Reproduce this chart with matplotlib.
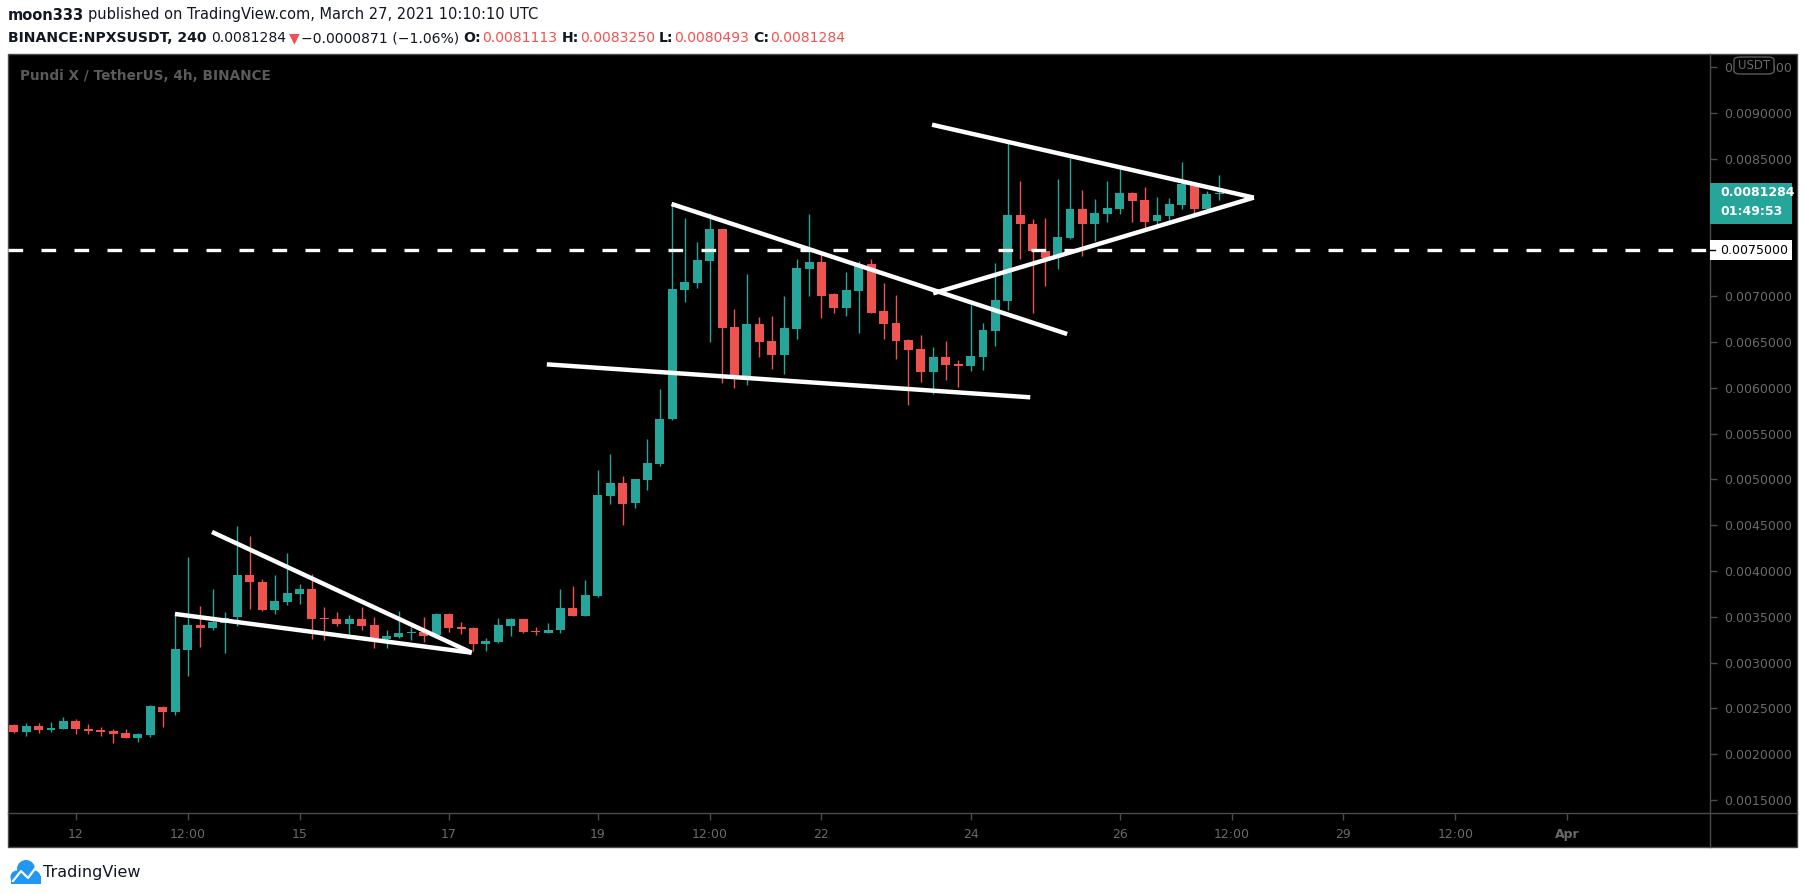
import numpy as np
import pandas as pd
import matplotlib
matplotlib.use('Agg')
import matplotlib.pyplot as plt
import matplotlib.dates as mdates
import matplotlib.transforms as mtransforms
from matplotlib.patches import Rectangle, FancyBboxPatch, Circle
from matplotlib.ticker import FormatStrFormatter

plt.rcParams['font.family'] = ['DejaVu Sans']

# NPXS/USDT 4h candles, first one opens 2021-03-11 04:00 UTC
first_candle = '2021-03-11 04:00'
opens = [0.002319, 0.002242, 0.002308, 0.002268, 0.002275, 0.002362, 0.002275, 0.002264, 0.002253, 0.002231,
         0.002177, 0.002210, 0.002515, 0.002461, 0.003138, 0.003410, 0.003378, 0.003436, 0.003498, 0.003956,
         0.003880, 0.003574, 0.003662, 0.003749, 0.003804, 0.003487, 0.003476, 0.003421, 0.003476, 0.003410,
         0.003258, 0.003279, 0.003323, 0.003334, 0.003301, 0.003531, 0.003389, 0.003378, 0.003203, 0.003225,
         0.003403, 0.003476, 0.003341, 0.003327, 0.003356, 0.003596, 0.003509, 0.003727, 0.004819, 0.004961,
         0.004742, 0.004993, 0.005168, 0.005659, 0.007068, 0.007144, 0.007384, 0.007734, 0.006664, 0.006129,
         0.006697, 0.006511, 0.006358, 0.006642, 0.007297, 0.007373, 0.007024, 0.006871, 0.007057, 0.007352,
         0.006838, 0.006707, 0.006522, 0.006424, 0.006173, 0.006336, 0.006260, 0.006238, 0.006336, 0.006620,
         0.006948, 0.007887, 0.007788, 0.007493, 0.007450, 0.007635, 0.007952, 0.007788, 0.007897, 0.007952,
         0.008127, 0.008050, 0.007821, 0.007876, 0.007996, 0.008214, 0.007952, 0.0081113]
highs = [0.002330, 0.002337, 0.002341, 0.002352, 0.002410, 0.002384, 0.002330, 0.002297, 0.002275, 0.002275,
         0.002231, 0.002537, 0.002526, 0.003552, 0.004153, 0.003618, 0.003804, 0.003552, 0.004491, 0.004382,
         0.003913, 0.003956, 0.004197, 0.003858, 0.003967, 0.003607, 0.003552, 0.003520, 0.003607, 0.003498,
         0.003356, 0.003563, 0.003389, 0.003498, 0.003538, 0.003542, 0.003443, 0.003389, 0.003269, 0.003487,
         0.003487, 0.003476, 0.003389, 0.003432, 0.003804, 0.003836, 0.003902, 0.005103, 0.005277, 0.005037,
         0.005004, 0.005441, 0.005987, 0.008000, 0.007854, 0.007592, 0.007905, 0.007734, 0.006860, 0.007242,
         0.006773, 0.006784, 0.007002, 0.007406, 0.007897, 0.007493, 0.007035, 0.007264, 0.007384, 0.007406,
         0.007144, 0.007013, 0.006533, 0.006576, 0.006446, 0.006511, 0.006304, 0.006904, 0.006707, 0.007362,
         0.008669, 0.008258, 0.007843, 0.007854, 0.008280, 0.008509, 0.008159, 0.008061, 0.008258, 0.008389,
         0.008138, 0.008192, 0.008083, 0.008072, 0.008465, 0.008225, 0.008149, 0.0083250]
lows = [0.002235, 0.002199, 0.002235, 0.002242, 0.002275, 0.002224, 0.002224, 0.002199, 0.002126, 0.002177,
        0.002133, 0.002188, 0.002297, 0.002428, 0.002854, 0.003170, 0.003356, 0.003105, 0.003400, 0.003585,
        0.003563, 0.003531, 0.003629, 0.003640, 0.003258, 0.003247, 0.003400, 0.003312, 0.003356, 0.003159,
        0.003159, 0.003269, 0.003247, 0.003225, 0.003301, 0.003334, 0.003312, 0.003127, 0.003127, 0.003214,
        0.003294, 0.003323, 0.003301, 0.003327, 0.003327, 0.003509, 0.003509, 0.003716, 0.004731, 0.004502,
        0.004688, 0.004884, 0.005146, 0.005648, 0.006937, 0.007090, 0.006500, 0.006052, 0.005998, 0.006031,
        0.006336, 0.006205, 0.006151, 0.006533, 0.007002, 0.006762, 0.006817, 0.006784, 0.006598, 0.006817,
        0.006533, 0.006314, 0.005812, 0.006063, 0.005932, 0.006085, 0.006009, 0.006183, 0.006194, 0.006456,
        0.006849, 0.007406, 0.006817, 0.007111, 0.007297, 0.007624, 0.007439, 0.007603, 0.007810, 0.007897,
        0.007810, 0.007734, 0.007777, 0.007821, 0.007952, 0.007897, 0.007941, 0.0080493]
closes = [0.002242, 0.002308, 0.002268, 0.002286, 0.002362, 0.002275, 0.002253, 0.002242, 0.002224, 0.002177,
          0.002221, 0.002526, 0.002461, 0.003148, 0.003410, 0.003378, 0.003443, 0.003491, 0.003956, 0.003880,
          0.003574, 0.003672, 0.003760, 0.003804, 0.003476, 0.003476, 0.003421, 0.003476, 0.003400, 0.003269,
          0.003290, 0.003323, 0.003334, 0.003290, 0.003531, 0.003378, 0.003367, 0.003203, 0.003236, 0.003410,
          0.003476, 0.003334, 0.003330, 0.003356, 0.003596, 0.003509, 0.003738, 0.004830, 0.004961, 0.004731,
          0.005004, 0.005179, 0.005659, 0.007079, 0.007155, 0.007395, 0.007734, 0.006653, 0.006140, 0.006697,
          0.006500, 0.006358, 0.006653, 0.007308, 0.007373, 0.007002, 0.006871, 0.007068, 0.007341, 0.006817,
          0.006697, 0.006511, 0.006413, 0.006173, 0.006336, 0.006249, 0.006242, 0.006347, 0.006631, 0.006958,
          0.007887, 0.007788, 0.007493, 0.007417, 0.007646, 0.007952, 0.007788, 0.007908, 0.007963, 0.008127,
          0.008039, 0.007810, 0.007887, 0.008007, 0.008225, 0.007952, 0.008116, 0.0081284]

# hand drawn lines: (time, price)
wedge_top = [('2021-03-13 19:50', 0.004426), ('2021-03-17 07:24', 0.003108)]
wedge_bottom = [('2021-03-13 07:55', 0.003531), ('2021-03-17 07:24', 0.003108)]
range_bottom = [('2021-03-18 07:36', 0.006256), ('2021-03-24 19:12', 0.005896)]
range_top = [('2021-03-19 23:45', 0.008007), ('2021-03-25 07:05', 0.006587)]
tri_bottom = [('2021-03-23 11:58', 0.007031), ('2021-03-27 19:10', 0.008076)]
tri_top = [('2021-03-23 11:36', 0.008872), ('2021-03-27 19:10', 0.008076)]
level = 0.0075

last_price = 0.0081284
countdown = '01:49:53'

# 0.0075 and 0.0080 sit under the price tags, so they are not listed
y_ticks = [0.0015, 0.0020, 0.0025, 0.0030, 0.0035, 0.0040, 0.0045, 0.0050, 0.0055,
           0.0060, 0.0065, 0.0070, 0.0085, 0.0090, 0.0095]
x_tick_times = ['2021-03-12 00:00', '2021-03-13 12:00', '2021-03-15 00:00', '2021-03-17 00:00',
                '2021-03-19 00:00', '2021-03-20 12:00', '2021-03-22 00:00', '2021-03-24 00:00',
                '2021-03-26 00:00', '2021-03-27 12:00', '2021-03-29 00:00', '2021-03-30 12:00',
                '2021-04-01 00:00']
x_tick_labels = ['12', '12:00', '15', '17', '19', '12:00', '22', '24', '26', '12:00', '29', '12:00', 'Apr']
x_range = ['2021-03-11 02:10', '2021-04-02 22:00']
y_range = [0.001358, 0.009644]

GREEN = '#26a69a'
RED = '#ef5350'
BORDER = '#4a4a4a'
AXTXT = '#6a6a6a'
DARK = '#131722'

W, H = 1805, 894
fig = plt.figure(figsize=(W / 100, H / 100), dpi=100, facecolor='white')

# page layer in pixel coords
frame = fig.add_axes([0, 0, 1, 1], zorder=0)
frame.set_xlim(0, W)
frame.set_ylim(H, 0)
frame.axis('off')
frame.add_patch(Rectangle((8, 54), 1789, 793, facecolor='black', edgecolor=BORDER, lw=1))
frame.plot([8, 1797], [813, 813], color=BORDER, lw=1)
frame.plot([1710, 1710], [54, 847], color=BORDER, lw=1)

# chart
ax = fig.add_axes([8 / W, (H - 813) / H, 1702 / W, (813 - 54) / H], zorder=1)
ax.set_facecolor('none')
for s in ax.spines.values():
    s.set_visible(False)

t = mdates.date2num(pd.date_range(first_candle, periods=len(opens), freq='4h'))
o = np.array(opens)
hi = np.array(highs)
lo = np.array(lows)
c = np.array(closes)
col = np.where(c >= o, GREEN, RED)
ax.vlines(t, lo, hi, colors=col, lw=1.0, zorder=2)
body = np.maximum(np.abs(c - o), 0.000016)
ax.bar(t, body, bottom=np.minimum(o, c), width=0.12, color=col, zorder=3)

ax.axhline(level, color='white', lw=2.4, dashes=(4.4, 5.5), zorder=4)
for ln in [wedge_top, wedge_bottom, range_bottom, range_top, tri_bottom, tri_top]:
    xs = mdates.date2num(pd.to_datetime([p[0] for p in ln]))
    ys = [p[1] for p in ln]
    ax.plot(xs, ys, color='white', lw=3.2, solid_capstyle='butt', zorder=5)

ax.set_xlim(mdates.date2num(pd.to_datetime(x_range)))
ax.set_ylim(y_range)
ax.yaxis.tick_right()
ax.set_yticks(y_ticks)
ax.yaxis.set_major_formatter(FormatStrFormatter('%.7f'))
ax.tick_params(axis='y', color=BORDER, labelcolor=AXTXT, length=5, width=1, pad=5, labelsize=9)
ax.set_xticks(mdates.date2num(pd.to_datetime(x_tick_times)))
ax.set_xticklabels(x_tick_labels)
ax.tick_params(axis='x', color=BORDER, labelcolor=AXTXT, length=5, width=1, pad=6, labelsize=9)
ax.get_xticklabels()[-1].set_fontweight('bold')

ax.text(12 / 1702, (813 - 76.5) / 759, 'Pundi X / TetherUS, 4h, BINANCE', transform=ax.transAxes,
        color='#5a5a5a', fontsize=9.8, fontweight='bold', va='center', ha='left')

# price labels on the scale
px = (y_range[1] - y_range[0]) / 759
tr = mtransforms.blended_transform_factory(ax.transAxes, ax.transData)
bw = 82 / 1702
ax.add_patch(Rectangle((1.0, last_price - 31 * px), bw, 41 * px, transform=tr, facecolor=GREEN,
                       edgecolor='none', clip_on=False, zorder=6))
ax.text(1.0 + 10 / 1702, last_price, '%.7f' % last_price, transform=tr, color='white', fontsize=9,
        fontweight='bold', va='center', ha='left', zorder=7, clip_on=False)
ax.text(1.0 + 10 / 1702, last_price - 19 * px, countdown, transform=tr, color='white', fontsize=9,
        fontweight='bold', va='center', ha='left', zorder=7, clip_on=False)
ax.add_patch(Rectangle((1.0, level - 10 * px), bw, 20 * px, transform=tr, facecolor='white',
                       edgecolor='none', clip_on=False, zorder=6))
ax.plot([1.0, 1.0 + 5 / 1702], [level, level], transform=tr, color='black', lw=1,
        clip_on=False, zorder=7)
ax.text(1.0 + 10 / 1702, level, '%.7f' % level, transform=tr, color='black', fontsize=9,
        va='center', ha='left', zorder=7, clip_on=False)
ax.add_patch(FancyBboxPatch((1.0 + 24 / 1702, (813 - 74) / 759), 40 / 1702, 17 / 759,
                            boxstyle='round,pad=0,rounding_size=0.004', transform=ax.transAxes,
                            facecolor='black', edgecolor='#5a5a5a', lw=1, clip_on=False, zorder=6))
ax.text(1.0 + 44 / 1702, (813 - 65.5) / 759, 'USDT', transform=ax.transAxes, color='#6a6a6a',
        fontsize=8.5, va='center', ha='center', zorder=7, clip_on=False)

# header
r = fig.canvas.get_renderer()


def line_of(pieces, y, size):
    x = 8
    for s, color, bold, gap in pieces:
        tx = frame.text(x, y, s, color=color, fontsize=size, fontweight='bold' if bold else 'normal',
                        va='center', ha='left')
        x = tx.get_window_extent(r).x1 + gap


line_of([('moon333', DARK, True, 4),
         ('published on TradingView.com, March 27, 2021 10:10:10 UTC', DARK, False, 0)], 15, 10.5)
line_of([('BINANCE:NPXSUSDT, 240', DARK, True, 5),
         ('0.0081284', DARK, False, 2),
         ('▼', RED, False, 2),
         ('−0.0000871 (−1.06%)', DARK, False, 4),
         ('O:', DARK, True, 1), ('0.0081113', RED, False, 4),
         ('H:', DARK, True, 1), ('0.0083250', RED, False, 4),
         ('L:', DARK, True, 1), ('0.0080493', RED, False, 4),
         ('C:', DARK, True, 1), ('0.0081284', RED, False, 0)], 38, 10.1)

# TradingView logo
LOGO = '#2196f3'
for cx, cy, rad in [(17, 877, 6.5), (26, 869, 9), (34, 877, 6.5)]:
    frame.add_patch(Circle((cx, cy), rad, facecolor=LOGO, edgecolor='none'))
frame.add_patch(Rectangle((11, 876), 30, 7.5, facecolor=LOGO, edgecolor='none'))
frame.plot([13, 21, 28, 37], [881, 871, 878, 866], color='white', lw=1.6)
frame.text(43, 872, 'TradingView', color=DARK, fontsize=11.5, va='center', ha='left')

fig.savefig('out.png', dpi=100, facecolor='white')
